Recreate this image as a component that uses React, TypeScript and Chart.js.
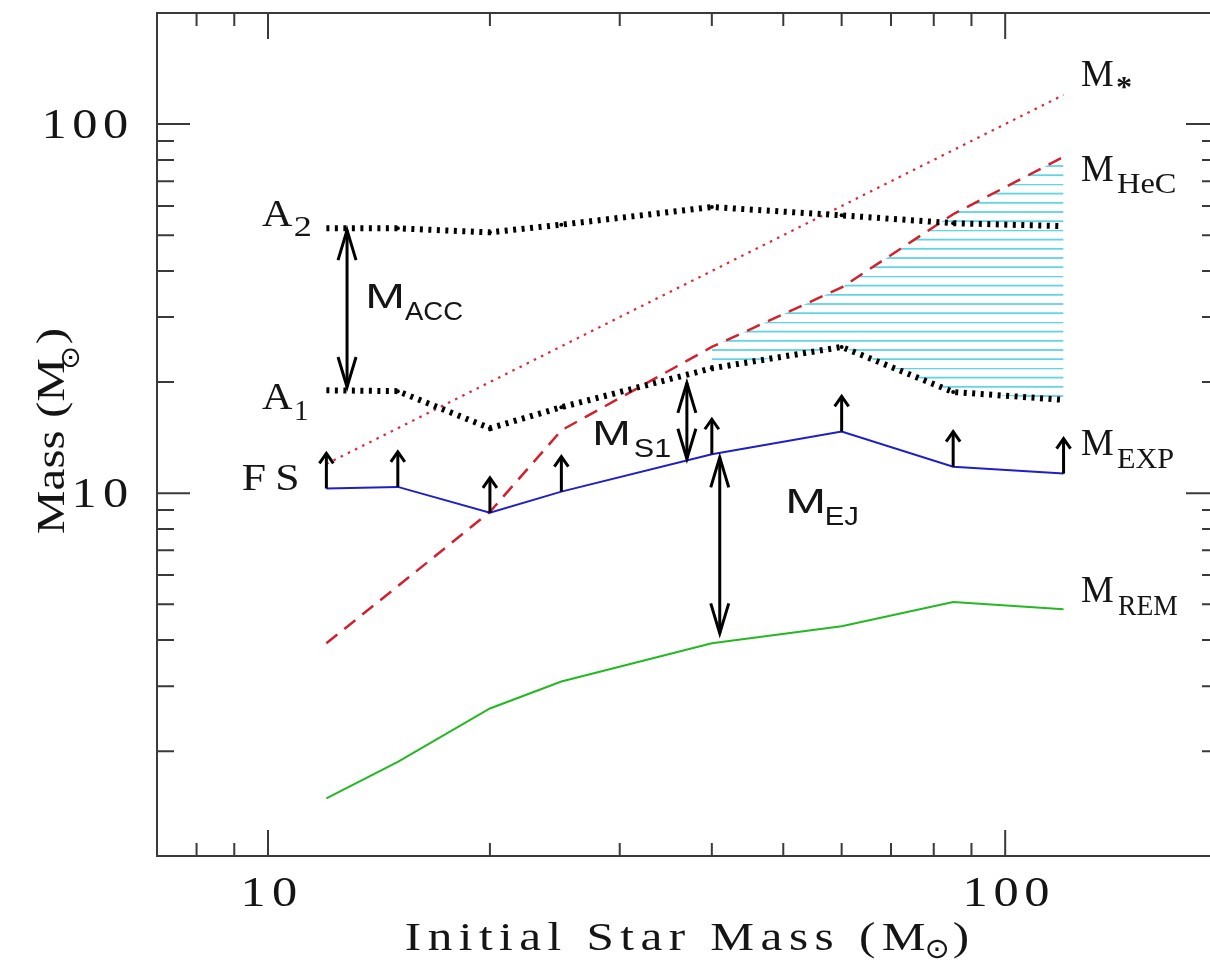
import React, { useEffect, useRef } from "react";
import { Chart, registerables } from "chart.js";

Chart.register(...registerables);

// Initial stellar masses of the models (Msun)
const masses = [12, 15, 20, 25, 40, 60, 85, 120];
// Final-state mass curves at each initial mass (Msun)
const mStar = [12, 15, 20, 25, 40, 60, 85, 120];
const mHeC = [3.92, 5.6, 8.9, 14.8, 24.9, 36.1, 57.0, 81.5];
const a2 = [52.2, 52.2, 50.9, 53.4, 59.6, 56.6, 53.9, 52.9];
const a1 = [19.0, 18.9, 15.0, 17.1, 21.8, 24.9, 18.8, 17.9];
const mExp = [10.3, 10.4, 8.85, 10.1, 12.75, 14.7, 11.8, 11.3];
const mRem = [1.49, 1.87, 2.61, 3.09, 3.92, 4.36, 5.07, 4.85];
// hatched zone between A1 and M_HeC starts at this initial mass
const hatchFrom = 40;

// double-headed arrows: [initial mass, upper mass, lower mass]
const accArrow = [12.8, 51.6, 19.4];
const s1Arrow = [37, 19.9, 12.4];
const ejArrow = [41, 12.5, 4.17];

// axis ticks
const xMajor = [10, 100];
const xMinor = [8, 9, 20, 30, 40, 50, 60, 70, 80, 90];
const yMajor = [10, 100];
const yMinor = [2, 3, 4, 5, 6, 7, 8, 9, 20, 30, 40, 50, 60, 70, 80, 90];
const xTickLabels = ["10", "100"];
const yTickLabels = ["10", "100"];

const CW = 1240;
const CH = 962;
const SERIF = "'Liberation Serif', 'DejaVu Serif', serif";
const SANS = "'Liberation Sans', 'DejaVu Sans', sans-serif";
const SYM = "'DejaVu Sans', sans-serif";

const pts = (ys: number[]) => masses.map((m, i) => ({ x: m, y: ys[i] }));
const ptsFrom = (ys: number[]) =>
  masses.map((m, i) => ({ x: m, y: ys[i] })).filter((p) => p.x >= hatchFrom);

// draw text so that its ink spans x0..x1 horizontally (by stretching)
function inkText(ctx: CanvasRenderingContext2D, text: string, x0: number, x1: number, base: number, font: string) {
  ctx.font = font;
  ctx.textAlign = "left";
  ctx.textBaseline = "alphabetic";
  const m = ctx.measureText(text);
  const w = m.actualBoundingBoxLeft + m.actualBoundingBoxRight;
  const sx = (x1 - x0) / w;
  ctx.save();
  ctx.translate(x0 + m.actualBoundingBoxLeft * sx, base);
  ctx.scale(sx, 1);
  ctx.fillText(text, 0, 0);
  ctx.restore();
}

// widened glyphs (sx) plus letter spacing so the ink spans x0..x1
function wideText(ctx: CanvasRenderingContext2D, text: string, x0: number, x1: number, base: number, font: string, sx = 1.2) {
  ctx.save();
  ctx.font = font;
  ctx.textAlign = "left";
  ctx.textBaseline = "alphabetic";
  (ctx as any).letterSpacing = "0px";
  const m0 = ctx.measureText(text);
  const w0 = m0.actualBoundingBoxLeft + m0.actualBoundingBoxRight;
  const target = (x1 - x0) / sx;
  const gap = text.length > 1 ? Math.max(0, (target - w0) / (text.length - 1)) : 0;
  (ctx as any).letterSpacing = `${gap}px`;
  const m = ctx.measureText(text);
  ctx.translate(x0 + m.actualBoundingBoxLeft * sx, base);
  ctx.scale(sx, 1);
  ctx.fillText(text, 0, 0);
  ctx.restore();
}

// draw text so that its ink fills the box x0..x1, y0..y1
function inkBox(ctx: CanvasRenderingContext2D, text: string, x0: number, x1: number, y0: number, y1: number, font: string) {
  ctx.font = font;
  ctx.textAlign = "left";
  ctx.textBaseline = "alphabetic";
  const m = ctx.measureText(text);
  const w = m.actualBoundingBoxLeft + m.actualBoundingBoxRight;
  const h = m.actualBoundingBoxAscent + m.actualBoundingBoxDescent;
  const sx = (x1 - x0) / w;
  const sy = (y1 - y0) / h;
  ctx.save();
  ctx.translate(x0 + m.actualBoundingBoxLeft * sx, y0 + m.actualBoundingBoxAscent * sy);
  ctx.scale(sx, sy);
  ctx.fillText(text, 0, 0);
  ctx.restore();
}

function arrowHead(ctx: CanvasRenderingContext2D, x: number, tipY: number, dir: number, len: number, half: number) {
  ctx.beginPath();
  ctx.moveTo(x - half, tipY + dir * len);
  ctx.lineTo(x, tipY);
  ctx.lineTo(x + half, tipY + dir * len);
  ctx.stroke();
}

const decorations = {
  id: "decorations",
  afterDraw(chart: any) {
    const ctx: CanvasRenderingContext2D = chart.ctx;
    const xs = chart.scales.x;
    const ys = chart.scales.y;
    const { left, right, top, bottom } = chart.chartArea;

    ctx.save();
    // frame and inward ticks
    ctx.strokeStyle = "#3a3a3a";
    ctx.lineWidth = 2;
    ctx.strokeRect(left, top, right - left, bottom - top);
    ctx.beginPath();
    const xt = (v: number, len: number) => {
      const p = xs.getPixelForValue(v);
      ctx.moveTo(p, bottom);
      ctx.lineTo(p, bottom - len);
      ctx.moveTo(p, top);
      ctx.lineTo(p, top + len);
    };
    const yt = (v: number, len: number) => {
      const p = ys.getPixelForValue(v);
      ctx.moveTo(left, p);
      ctx.lineTo(left + len, p);
      ctx.moveTo(right, p);
      ctx.lineTo(right - len, p);
    };
    xMajor.forEach((v) => xt(v, 26));
    xMinor.forEach((v) => xt(v, 13));
    yMajor.forEach((v) => yt(v, 33));
    yMinor.forEach((v) => yt(v, 17));
    ctx.stroke();

    // tick labels
    ctx.fillStyle = "#151515";
    const tickFont = `42px ${SERIF}`;
    xMajor.forEach((v, i) => {
      const t = xTickLabels[i];
      const w = 30 * t.length - 8;
      const c = xs.getPixelForValue(v) + 2;
      wideText(ctx, t, c - w / 2, c + w / 2, bottom + 50, tickFont);
    });
    yMajor.forEach((v, i) => {
      const t = yTickLabels[i];
      const w = 30 * t.length - 8;
      const c = ys.getPixelForValue(v);
      wideText(ctx, t, left - 30 - w, left - 30, c + 14, tickFont);
    });

    // axis titles
    const titleFont = `41px ${SERIF}`;
    wideText(ctx, "Initial Star Mass (M", 406, 925, 950, titleFont);
    inkBox(ctx, "\u2299", 927, 947, 939, 959, `24px ${SYM}`);
    wideText(ctx, ")", 954, 963, 950, titleFont);

    ctx.save();
    ctx.translate(64, 533);
    ctx.rotate(-Math.PI / 2);
    wideText(ctx, "Mass (M", 0, 163, 0, titleFont);
    inkBox(ctx, "\u2299", 166, 185, -3, 16, `24px ${SYM}`);
    wideText(ctx, ")", 190, 199, 0, titleFont);
    ctx.restore();

    // curve labels
    const big = `38px ${SERIF}`;
    const sub = `29px ${SERIF}`;
    inkText(ctx, "M", 1082, 1113, 86, big);
    inkBox(ctx, "*", 1117, 1131, 77, 89, `bold 30px ${SERIF}`);
    inkText(ctx, "M", 1082, 1113, 181, big);
    inkText(ctx, "HeC", 1117, 1175, 193, sub);
    inkText(ctx, "M", 1082, 1113, 455, big);
    inkText(ctx, "EXP", 1117, 1173, 468, sub);
    inkText(ctx, "M", 1082, 1113, 602, big);
    inkText(ctx, "REM", 1118, 1177, 615, sub);
    inkText(ctx, "A", 262, 293, 226, big);
    inkText(ctx, "2", 295, 310, 236, sub);
    inkText(ctx, "A", 262, 293, 409, big);
    inkText(ctx, "1", 296, 307, 420, sub);
    wideText(ctx, "FS", 243, 297, 490, big, 1.15);

    const sBig = `35px ${SANS}`;
    const sSub = `25px ${SANS}`;
    inkText(ctx, "M", 368, 402, 308, sBig);
    inkText(ctx, "ACC", 405, 463, 320, sSub);
    inkText(ctx, "M", 595, 628, 445, sBig);
    inkText(ctx, "S1", 635, 670, 457, sSub);
    inkText(ctx, "M", 788, 823, 513, sBig);
    inkText(ctx, "EJ", 827, 857, 525, sSub);

    // arrows
    ctx.strokeStyle = "#000";
    ctx.lineWidth = 3;
    ctx.lineCap = "butt";
    ctx.lineJoin = "miter";
    masses.forEach((m, i) => {
      const px = xs.getPixelForValue(m);
      const py = ys.getPixelForValue(mExp[i]);
      ctx.beginPath();
      ctx.moveTo(px, py);
      ctx.lineTo(px, py - 35);
      ctx.stroke();
      arrowHead(ctx, px, py - 35, 1, 10, 7);
    });
    [accArrow, s1Arrow, ejArrow].forEach(([m, hi, lo]) => {
      const px = xs.getPixelForValue(m);
      const y1 = ys.getPixelForValue(hi);
      const y2 = ys.getPixelForValue(lo);
      ctx.beginPath();
      ctx.moveTo(px, y1);
      ctx.lineTo(px, y2);
      ctx.stroke();
      arrowHead(ctx, px, y1, 1, 30, 9);
      arrowHead(ctx, px, y2, -1, 30, 9);
    });
    ctx.restore();
  },
};

export default function App() {
  const ref = useRef<HTMLCanvasElement>(null);

  useEffect(() => {
    const canvas = ref.current;
    if (!canvas) return;
    const ctx = canvas.getContext("2d")!;

    // horizontal cyan hatching
    const tile = document.createElement("canvas");
    tile.width = 4;
    tile.height = 46;
    const tc = tile.getContext("2d")!;
    tc.fillStyle = "rgb(95, 212, 226)";
    for (let k = 0; k < 5; k++) {
      const y = (28 + k * 9.2) % 46;
      tc.fillRect(0, y - 0.9, 4, 1.8);
    }
    const hatch = ctx.createPattern(tile, "repeat");

    const interiorDots = (c: any) => (c.dataIndex > 0 && c.dataIndex < masses.length - 1 ? 2 : 0);

    const chart = new Chart(ctx, {
      type: "line",
      data: {
        datasets: [
          { label: "M_EXP", data: pts(mExp), borderColor: "rgb(30, 30, 205)", borderWidth: 2, pointRadius: 0, fill: false },
          { label: "M_REM", data: pts(mRem), borderColor: "rgb(35, 185, 35)", borderWidth: 2, pointRadius: 0, fill: false },
          {
            label: "A1", data: pts(a1), borderColor: "#000", borderWidth: 6, borderDash: [3, 5.5],
            pointRadius: interiorDots, pointBackgroundColor: "#000", pointBorderWidth: 0, fill: false,
          },
          {
            label: "A2", data: pts(a2), borderColor: "#000", borderWidth: 6, borderDash: [3, 5.5],
            pointRadius: interiorDots, pointBackgroundColor: "#000", pointBorderWidth: 0, fill: false,
          },
          { label: "M_*", data: pts(mStar), borderColor: "rgb(222, 40, 55)", borderWidth: 2.2, borderDash: [2.5, 5.5], pointRadius: 0, fill: false },
          { label: "M_HeC", data: pts(mHeC), borderColor: "rgb(212, 32, 45)", borderWidth: 2.5, borderDash: [14, 9], pointRadius: 0, fill: false },
          {
            label: "hatch-top", data: ptsFrom(mHeC), borderColor: "rgba(0,0,0,0)", borderWidth: 0,
            pointRadius: 0, fill: "+1", backgroundColor: hatch as any,
          },
          { label: "hatch-bottom", data: ptsFrom(a1), borderColor: "rgba(0,0,0,0)", borderWidth: 0, pointRadius: 0, fill: false },
        ],
      },
      options: {
        responsive: false,
        animation: false,
        devicePixelRatio: 1,
        layout: { padding: { left: 157, top: 13, right: CW - 1219, bottom: CH - 856 } },
        plugins: {
          legend: { display: false },
          tooltip: { enabled: false },
          filler: { drawTime: "beforeDatasetsDraw" } as any,
        },
        scales: {
          x: { type: "logarithmic", min: 7.07, max: 195, display: false },
          y: { type: "logarithmic", min: 1.04, max: 200, display: false },
        },
      },
      plugins: [decorations],
    });

    return () => chart.destroy();
  }, []);

  return (
    <div
      style={{
        position: "fixed",
        left: 0,
        top: 0,
        width: 1210,
        height: 962,
        overflow: "hidden",
        background: "#fff",
      }}
    >
      <canvas ref={ref} width={CW} height={CH} style={{ display: "block", width: CW, height: CH }} />
    </div>
  );
}
